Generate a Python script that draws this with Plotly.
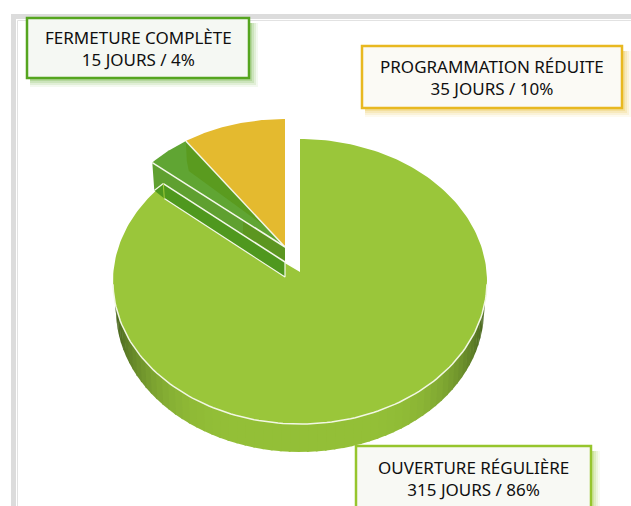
import numpy as np
import plotly.graph_objects as go

CATEGORIES = ["OUVERTURE RÉGULIÈRE", "PROGRAMMATION RÉDUITE", "FERMETURE COMPLÈTE"]
DAYS = [315, 35, 15]
PERCENT = [86, 10, 4]
SLICE_COLORS = ["#9ac63a", "#e4ba2f", "#60a533"]
BORDER_COLORS = ["#96c52d", "#e8b820", "#55a51f"]
BOX_FILLS = ["#f8f9f4", "#fbfaf5", "#f5f8f3"]
BOXES = [(356, 446, 591, 520), (362, 46, 622, 108), (27, 18, 249, 78)]
TEXT_CENTER_Y = [478.5, 77.5, 48]
FONT = "Noto Sans"

total = sum(DAYS)
sweep = [d / total * 2 * np.pi for d in DAYS]
fig = go.Figure()


def ell(cx, cy, a, b, th):
    return cx + a * np.sin(th), cy - b * np.cos(th)


def poly(x, y, color, line=None, lw=0):
    fig.add_trace(go.Scatter(
        x=list(x), y=list(y), mode="lines", fill="toself", fillcolor=color,
        line=dict(color=line or color, width=lw), hoverinfo="skip", showlegend=False))


def seg(x, y, color="#f4f8ea", w=1.5):
    fig.add_trace(go.Scatter(x=list(x), y=list(y), mode="lines",
                             line=dict(color=color, width=w), hoverinfo="skip", showlegend=False))


# big slice geometry
CX, CY, A, B = 300, 281.5, 187, 142.5
AX, AY = 300, 272
WY, WA, WB = 310, 184, 142

# extruded side wall with a shading gradient
edges = np.linspace(np.pi / 2, 3 * np.pi / 2 + 0.25, 70)
dark = np.array([72, 100, 32])
light = np.array([148, 192, 56])
for t0, t1 in zip(edges[:-1], edges[1:]):
    t = np.linspace(t0, t1 + 0.01, 3)
    xt, yt = ell(CX, CY, A - 1, B - 1, t)
    xb, yb = ell(CX, WY, WA, WB, t)
    k = min(abs(np.sin((t0 + t1) / 2)), 1) ** 5
    c = (light + (dark - light) * k).astype(int)
    col = f"rgb({c[0]},{c[1]},{c[2]})"
    poly(np.r_[xt, xb[::-1]], np.r_[yt, yb[::-1]], col)

# large face
th = np.linspace(0, sweep[0], 240)
x, y = ell(CX, CY, A, B, th)
poly(np.r_[AX, x, AX], np.r_[AY, y, AY], SLICE_COLORS[0])
low = np.linspace(np.pi / 2 + 0.02, 3 * np.pi / 2 - 0.02, 120)
seg(*ell(CX, CY, A, B, low), color="#f2f7e4", w=1.5)

# detached slices
DX, DY, DA, DB = 285, 244, 175, 125
PX, PY = 285, 247
a0 = 0.0
a1 = sweep[1]
a2 = sweep[1] + sweep[2]
th = -np.linspace(a0, a1, 60)
x, y = ell(DX, DY, DA, DB, th)
poly(np.r_[PX, x, PX], np.r_[PY, y, PY], SLICE_COLORS[1])
th = -np.linspace(a1, a2, 30)
x, y = ell(DX, DY, DA, DB, th)
poly(np.r_[PX, x, PX], np.r_[PY, y, PY], SLICE_COLORS[2])
ex, ey = ell(DX, DY, DA, DB, -a2)
mx, my = ell(DX, DY, DA, DB, -a1)
# inner shaded side of small slice
poly([mx, mx + 1, mx + 3, 263, PX, mx], [my, my + 20, my + 30, 225, PY, my], "#5a9b1f")

# stepped walls of the small slice
s1 = (ex + 11, ey + 21)
s2 = (ex + 12, ey + 36)
s0 = (ex + 2, ey + 28)
poly([ex, PX, PX, s1[0], s0[0], ex], [ey, PY, PY + 15, s1[1], s0[1], ey], "#5fa030")
poly([PX - 42, PX, PX, PX - 42], [PY - 27, PY, PY + 15, PY - 12], "#5c9620")
poly([s0[0], s1[0], PX, PX, s2[0], s0[0]], [s0[1], s1[1], PY + 15, PY + 30, s2[1], s0[1]], "#4f981e")

seg([mx, PX], [my, PY])
seg([ex, PX], [ey, PY])
seg([s1[0], PX], [s1[1], PY + 15])
seg([s2[0], PX, PX], [s2[1], PY + 30, PY + 15], w=1.2)
seg([s0[0], s1[0]], [s0[1], s1[1]], w=1.2)
seg([s1[0], s2[0]], [s1[1], s2[1]], color="#a4cc3a", w=1)

shapes = [
    dict(type="rect", x0=11, y0=14, x1=640, y1=520, line=dict(width=0), fillcolor="#dcdcdc", layer="below"),
    dict(type="rect", x0=16, y0=19, x1=640, y1=520, line=dict(width=0), fillcolor="#ffffff", layer="below"),
    dict(type="rect", x0=17.5, y0=20.5, x1=640, y1=520, line=dict(color="#e2e2e2", width=1), fillcolor="#ffffff", layer="below"),
]
annotations = []
for i, (cat, d, p, (x0, y0, x1, y1)) in enumerate(zip(CATEGORIES, DAYS, PERCENT, BOXES)):
    for off, op in ((9, 0.07), (7, 0.11), (5, 0.15), (3, 0.2)):
        shapes.append(dict(type="rect", x0=x0 + 3, y0=y0 + 5, x1=x1 + off, y1=y1 + off,
                           line=dict(width=0), fillcolor=BORDER_COLORS[i], opacity=op, layer="above"))
    shapes.append(dict(type="rect", x0=x0, y0=y0, x1=x1, y1=y1, fillcolor=BOX_FILLS[i],
                       line=dict(color=BORDER_COLORS[i], width=2.5), layer="above"))
    annotations.append(dict(
        x=(x0 + x1) / 2, y=TEXT_CENTER_Y[i], xref="x", yref="y", showarrow=False,
        text=f"{cat}<br>{d} JOURS / {p}%", align="center",
        font=dict(family=FONT, size=17, color="#0f0f0f")))

fig.update_layout(
    width=631, height=506, autosize=False,
    margin=dict(l=0, r=0, t=0, b=0),
    paper_bgcolor="#ffffff", plot_bgcolor="#ffffff",
    showlegend=False, shapes=shapes, annotations=annotations,
    xaxis=dict(range=[0, 631], visible=False, fixedrange=True, domain=[0, 1]),
    yaxis=dict(range=[506, 0], visible=False, fixedrange=True, domain=[0, 1]),
)
fig.write_html("out.html", config=dict(displayModeBar=False),
               post_script="document.body.style.margin='0';document.documentElement.style.overflow='hidden';")
